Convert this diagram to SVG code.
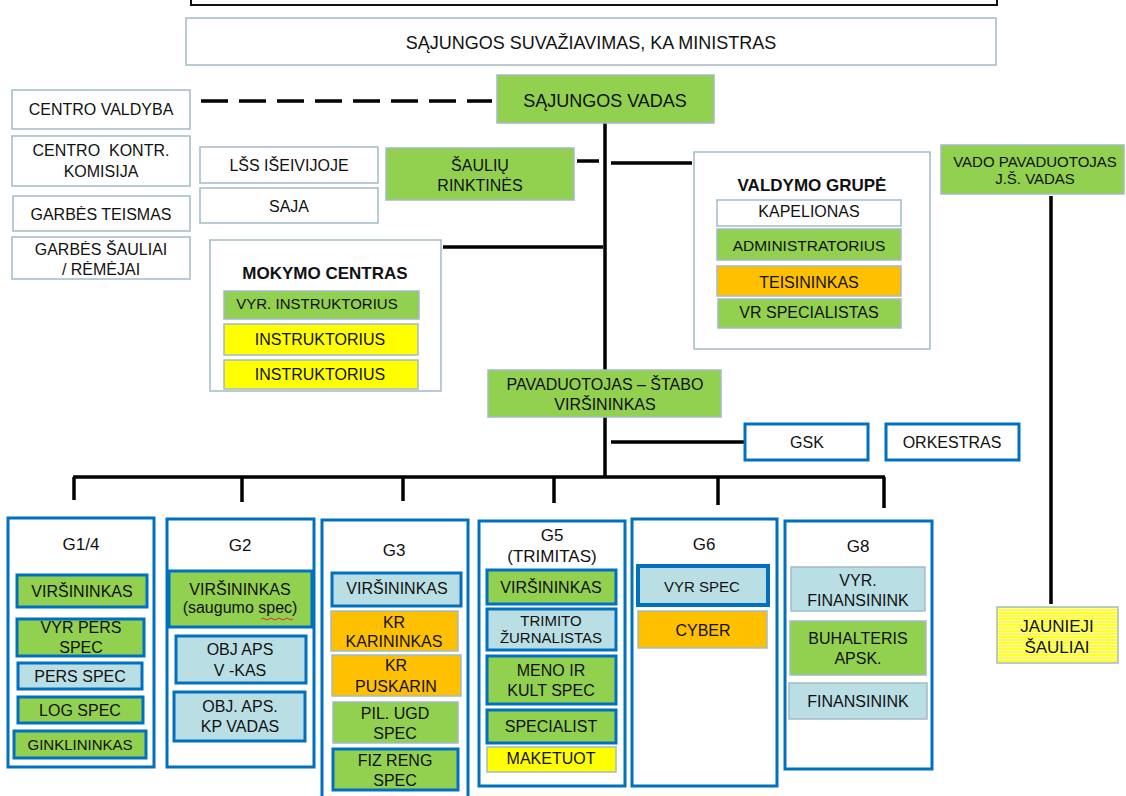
<svg xmlns="http://www.w3.org/2000/svg" width="1126" height="796" viewBox="0 0 1126 796">
<defs>
<style>
text{font-family:"Liberation Sans",Arial,sans-serif;font-size:16px;fill:#111;text-anchor:middle}
.t{font-weight:bold;font-size:17px;fill:#111}
.h{font-size:17px}
.s15{font-size:15px}
.s155{font-size:15.5px}
.s18{font-size:18px}
rect{stroke:#A3BBC5;stroke-width:1.5}
.w{fill:#fff}
.g{fill:#92D050}
.o{fill:#FFC000}
.y{fill:#FFFF00}
.lb{fill:#B9DFE5}
.bb{stroke:#0070C0;stroke-width:3}
.bx{fill:#fff;stroke:#0070C0;stroke-width:3}
.ln{stroke:#000;stroke-width:3.5;fill:none}
.pa{fill:#FFFF2E;stroke:none}
.pb{fill:#FFFFB8;stroke:none}
</style>
<pattern id="stripes" width="6" height="3" patternUnits="userSpaceOnUse">
<rect class="pa" x="0" y="0" width="6" height="3"/>
<rect class="pb" x="0" y="2" width="6" height="1"/>
</pattern>
</defs>
<rect width="1126" height="796" style="fill:#fff;stroke:none"/>

<g id="connectors">
<line class="ln" x1="201" y1="101" x2="492" y2="101" stroke-dasharray="27 11"/>
<line class="ln" x1="605" y1="123" x2="605" y2="478"/>
<line class="ln" x1="577" y1="161" x2="599" y2="161"/>
<line class="ln" x1="611" y1="163" x2="692" y2="163"/>
<line class="ln" x1="443" y1="247" x2="603" y2="247"/>
<line class="ln" x1="611" y1="442" x2="745" y2="442"/>
<line class="ln" x1="73" y1="477" x2="885" y2="477"/>
<line class="ln" x1="74" y1="477" x2="74" y2="500"/>
<line class="ln" x1="242" y1="477" x2="242" y2="502"/>
<line class="ln" x1="403" y1="477" x2="403" y2="501"/>
<line class="ln" x1="554" y1="477" x2="554" y2="503"/>
<line class="ln" x1="718" y1="477" x2="718" y2="505"/>
<line class="ln" x1="884" y1="477" x2="884" y2="508"/>
<line class="ln" x1="1051" y1="196" x2="1051" y2="604"/>
</g>

<g id="top-frame"><rect x="191" y="-10" width="806" height="15" style="fill:none;stroke:#111;stroke-width:2"/></g>

<g id="suvaziavimas"><rect class="w" x="186" y="18" width="810" height="47"/><text class="s18" x="591" y="49">SĄJUNGOS SUVAŽIAVIMAS, KA MINISTRAS</text></g>
<g id="vadas"><rect class="g" x="497" y="75" width="217" height="48"/><text class="s18" x="605" y="107">SĄJUNGOS VADAS</text></g>

<g id="centro-valdyba"><rect class="w" x="12" y="90" width="178" height="39"/><text x="101" y="115">CENTRO VALDYBA</text></g>
<g id="kontr-komisija"><rect class="w" x="12" y="136" width="178" height="50"/><text x="101" y="156" xml:space="preserve">CENTRO  KONTR.</text><text x="101" y="177">KOMISIJA</text></g>
<g id="garbes-teismas"><rect class="w" x="13" y="196" width="177" height="35"/><text x="101" y="220">GARBĖS TEISMAS</text></g>
<g id="garbes-sauliai"><rect class="w" x="12" y="237" width="178" height="42"/><text x="101" y="255">GARBĖS ŠAULIAI</text><text x="101" y="275">/ RĖMĖJAI</text></g>

<g id="lss"><rect class="w" x="200" y="147" width="178" height="36"/><text x="289" y="171">LŠS IŠEIVIJOJE</text></g>
<g id="saja"><rect class="w" x="200" y="188" width="178" height="35"/><text x="289" y="212">SAJA</text></g>
<g id="rinktines"><rect class="g" x="386" y="148" width="188" height="52"/><text x="480" y="171">ŠAULIŲ</text><text x="480" y="191">RINKTINĖS</text></g>

<g id="valdymo-grupe"><rect class="w" x="694" y="152" width="236" height="197"/>
<text class="t" x="812" y="191">VALDYMO GRUPĖ</text>
<rect class="w" x="717" y="200" width="184" height="26"/><text x="809" y="217">KAPELIONAS</text>
<rect class="g" x="717" y="229" width="184" height="31"/><text class="s155" x="809" y="251">ADMINISTRATORIUS</text>
<rect class="o" x="717" y="266" width="184" height="30"/><text x="809" y="288">TEISININKAS</text>
<rect class="g" x="718" y="299" width="183" height="29"/><text x="809" y="318">VR SPECIALISTAS</text>
</g>

<g id="vado-pavaduotojas"><rect class="g" x="941" y="145" width="183" height="49"/><text class="s15" x="1035" y="167">VADO PAVADUOTOJAS</text><text class="s15" x="1035" y="184">J.Š. VADAS</text></g>
<g id="jaunieji"><rect x="997" y="607" width="121" height="56" fill="url(#stripes)"/><text class="h" x="1057" y="632">JAUNIEJI</text><text class="h" x="1057" y="653">ŠAULIAI</text></g>

<g id="mokymo-centras"><rect class="w" x="210" y="240" width="231" height="151"/>
<text class="t" x="325" y="279">MOKYMO CENTRAS</text>
<rect class="g" x="224" y="291" width="195" height="28"/><text class="s15" x="317" y="309">VYR. INSTRUKTORIUS</text>
<rect class="y" x="224" y="324" width="194" height="31"/><text x="320" y="345">INSTRUKTORIUS</text>
<rect class="y" x="224" y="360" width="194" height="29"/><text x="320" y="380">INSTRUKTORIUS</text>
</g>

<g id="stabo-virsininkas"><rect class="g" x="488" y="370" width="233" height="47"/><text x="605" y="390">PAVADUOTOJAS – ŠTABO</text><text x="605" y="410">VIRŠININKAS</text></g>
<g id="gsk"><rect class="bx" x="745" y="424" width="123" height="36"/><text x="807" y="448">GSK</text></g>
<g id="orkestras"><rect class="bx" x="886" y="424" width="133" height="36"/><text x="952" y="448">ORKESTRAS</text></g>

<g id="g1-4"><rect class="bx" x="8" y="518" width="146" height="249"/>
<text class="h" x="81" y="550">G1/4</text>
<rect class="g bb" x="17" y="575" width="130" height="32"/><text x="82" y="597">VIRŠININKAS</text>
<rect class="g bb" x="17" y="619" width="127" height="37"/><text x="81" y="633">VYR PERS</text><text x="81" y="653">SPEC</text>
<rect class="lb bb" x="18" y="663" width="124" height="26"/><text x="80" y="682">PERS SPEC</text>
<rect class="g bb" x="18" y="697" width="125" height="26"/><text x="80" y="716">LOG SPEC</text>
<rect class="g bb" x="14" y="731" width="132" height="27"/><text class="s15" x="80" y="750">GINKLININKAS</text>
</g>

<g id="g2"><rect class="bx" x="167" y="519" width="147" height="248"/>
<text class="h" x="240" y="551">G2</text>
<rect class="g bb" x="169" y="571" width="143" height="56"/><text x="240" y="595">VIRŠININKAS</text><text x="240" y="613">(saugumo spec)</text>
<path d="M261 619 q2 -2 4 0 t4 0 t4 0 t4 0 t4 0 t4 0 t4 0 t4 0" fill="none" stroke="#E03030" stroke-width="1"/>
<rect class="lb bb" x="176" y="636" width="130" height="47"/><text x="240" y="655">OBJ APS</text><text x="240" y="676">V -KAS</text>
<rect class="lb bb" x="174" y="692" width="131" height="49"/><text x="240" y="712">OBJ. APS.</text><text x="240" y="732">KP VADAS</text>
</g>

<g id="g3"><rect class="bx" x="322" y="520" width="146" height="290"/>
<text class="h" x="394" y="556">G3</text>
<rect class="lb bb" x="332" y="573" width="129" height="33"/><text x="397" y="594">VIRŠININKAS</text>
<rect class="o" x="331" y="611" width="127" height="40"/><text x="394" y="628">KR</text><text x="394" y="647">KARININKAS</text>
<rect class="o" x="332" y="655" width="129" height="41"/><text x="396" y="671">KR</text><text x="396" y="692">PUSKARIN</text>
<rect class="g" x="333" y="702" width="125" height="41"/><text x="395" y="719">PIL. UGD</text><text x="395" y="739">SPEC</text>
<rect class="g bb" x="333" y="749" width="125" height="41"/><text x="395" y="766">FIZ RENG</text><text x="395" y="786">SPEC</text>
</g>

<g id="g5"><rect class="bx" x="479" y="521" width="146" height="265"/>
<text class="h" x="552" y="541">G5</text><text class="h" x="552" y="562">(TRIMITAS)</text>
<rect class="g bb" x="487" y="570" width="129" height="34"/><text x="551" y="593">VIRŠININKAS</text>
<rect class="lb bb" x="487" y="609" width="129" height="41"/><text class="s15" x="551" y="626">TRIMITO</text><text class="s15" x="551" y="643">ŽURNALISTAS</text>
<rect class="g bb" x="487" y="656" width="129" height="48"/><text x="551" y="676">MENO IR</text><text x="551" y="696">KULT SPEC</text>
<rect class="g bb" x="487" y="710" width="129" height="33"/><text x="551" y="732">SPECIALIST</text>
<rect class="y" x="487" y="747" width="129" height="25"/><text x="551" y="764">MAKETUOT</text>
</g>

<g id="g6"><rect class="bx" x="632" y="519" width="145" height="267"/>
<text class="h" x="704" y="550">G6</text>
<rect class="lb" x="638" y="566" width="130" height="39" style="stroke:#0070C0;stroke-width:4"/><text class="s15" x="702" y="592">VYR SPEC</text>
<rect class="o" x="638" y="611" width="129" height="37"/><text x="703" y="636">CYBER</text>
</g>

<g id="g8"><rect class="bx" x="785" y="521" width="147" height="248"/>
<text class="h" x="858" y="552">G8</text>
<rect class="lb" x="791" y="567" width="134" height="44"/><text x="858" y="586">VYR.</text><text x="858" y="606">FINANSININK</text>
<rect class="g" x="790" y="621" width="136" height="54"/><text x="858" y="644">BUHALTERIS</text><text x="858" y="664">APSK.</text>
<rect class="lb" x="789" y="683" width="138" height="36"/><text x="858" y="707">FINANSININK</text>
</g>
</svg>
